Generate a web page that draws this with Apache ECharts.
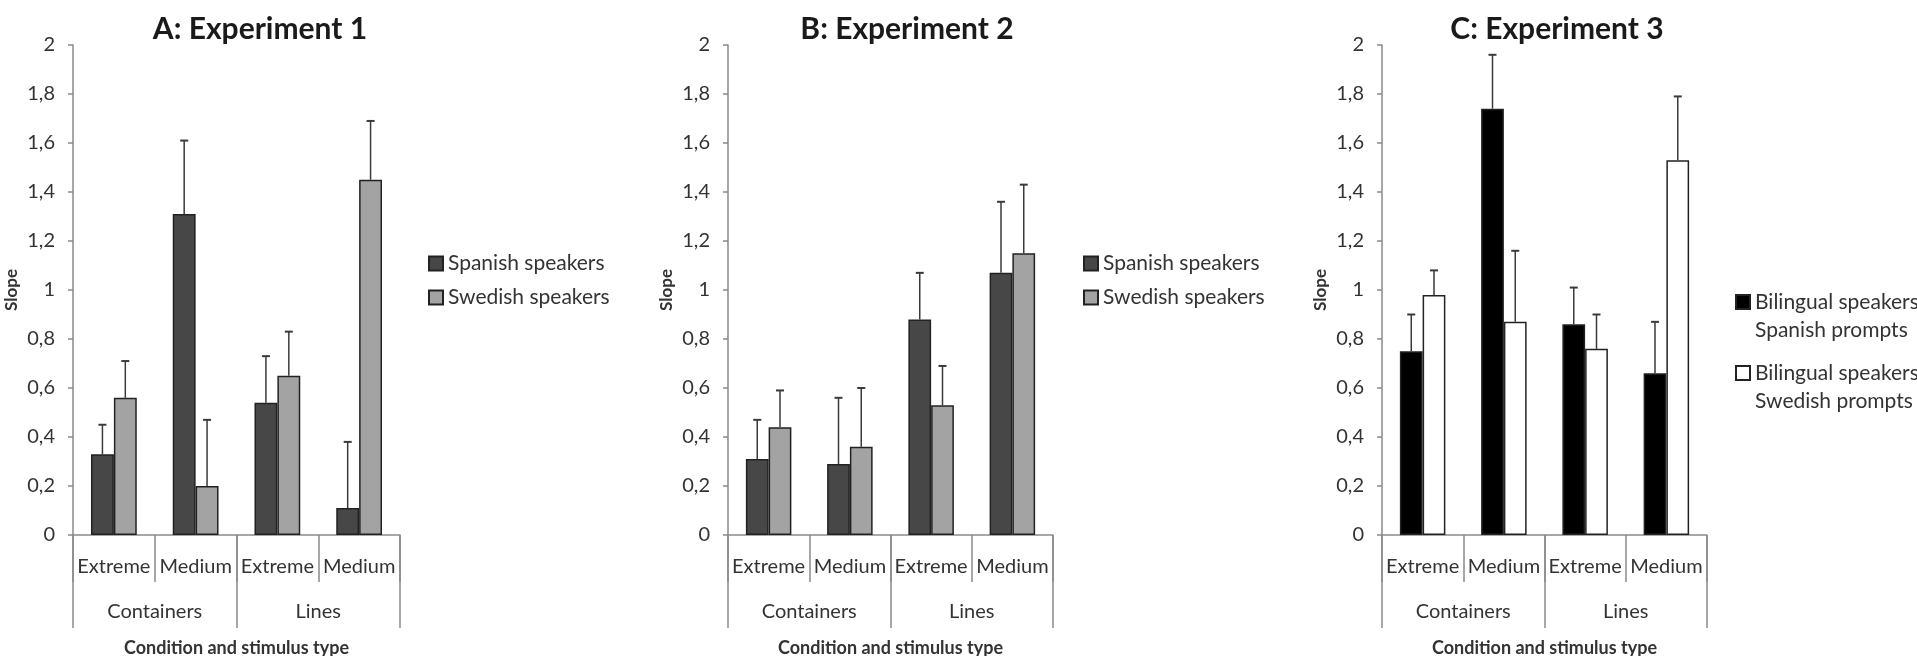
<!DOCTYPE html>
<html>
<head>
<meta charset="utf-8">
<script src="https://cdn.jsdelivr.net/npm/echarts@6/dist/echarts.min.js"></script>
<style>
  html, body { margin: 0; padding: 0; background: #fff; }
  #chart { width: 1917px; height: 656px; }
</style>
</head>
<body>
<div id="chart"></div>
<script>
// ---- Data ----
const conditions = ['Extreme', 'Medium', 'Extreme', 'Medium'];
const stimulusTypes = ['Containers', 'Lines'];
const yTickLabels = ['0', '0,2', '0,4', '0,6', '0,8', '1', '1,2', '1,4', '1,6', '1,8', '2'];
const panelTitles = ['A: Experiment 1', 'B: Experiment 2', 'C: Experiment 3'];
const speakerGroups = ['Spanish speakers', 'Swedish speakers'];
const promptGroups = ['Bilingual speakers Spanish prompts', 'Bilingual speakers Swedish prompts'];

// Mean slopes per condition
const exp1Spanish = [0.33, 1.31, 0.54, 0.11];
const exp1Swedish = [0.56, 0.20, 0.65, 1.45];
const exp2Spanish = [0.31, 0.29, 0.88, 1.07];
const exp2Swedish = [0.44, 0.36, 0.53, 1.15];
const exp3SpanishPrompts = [0.75, 1.74, 0.86, 0.66];
const exp3SwedishPrompts = [0.98, 0.87, 0.76, 1.53];

// Upper end of each error bar
const exp1SpanishTop = [0.45, 1.61, 0.73, 0.38];
const exp1SwedishTop = [0.71, 0.47, 0.83, 1.69];
const exp2SpanishTop = [0.47, 0.56, 1.07, 1.36];
const exp2SwedishTop = [0.59, 0.60, 0.69, 1.43];
const exp3SpanishPromptsTop = [0.90, 1.96, 1.01, 0.87];
const exp3SwedishPromptsTop = [1.08, 1.16, 0.90, 1.79];

// ---- Styling / layout ----
const FONT = 'Lato, "Open Sans", sans-serif';
const TEXT = '#333333';
const AXIS = '#8a8a8a';
const ERR = '#3a3a3a';
const CAT_GAP = 0.44;

const grids = [
  { left: 73,   top: 45, width: 327, height: 490, outerBoundsMode: 'none' },
  { left: 728,  top: 45, width: 325, height: 490, outerBoundsMode: 'none' },
  { left: 1382, top: 45, width: 325, height: 490, outerBoundsMode: 'none' }
];
const titleCenters = [260, 907, 1557];

const panels = [
  { names: speakerGroups, means: [exp1Spanish, exp1Swedish], tops: [exp1SpanishTop, exp1SwedishTop],
    colors: ['#474747', '#a3a3a3'] },
  { names: speakerGroups, means: [exp2Spanish, exp2Swedish], tops: [exp2SpanishTop, exp2SwedishTop],
    colors: ['#474747', '#a3a3a3'] },
  { names: promptGroups, means: [exp3SpanishPrompts, exp3SwedishPrompts],
    tops: [exp3SpanishPromptsTop, exp3SwedishPromptsTop], colors: ['#000000', '#ffffff'] }
];

// Error bar drawn from the bar top up to the upper value, with a short cap
function errorBars(g, means, tops, side) {
  return {
    type: 'custom',
    xAxisIndex: g * 2,
    yAxisIndex: g,
    z: 5,
    silent: true,
    data: means.map((m, i) => [i, m, tops[i]]),
    encode: { x: 0, y: [1, 2] },
    renderItem(params, api) {
      const i = api.value(0);
      const band = api.size([1, 0])[0];
      const dx = side * band * (1 - CAT_GAP) / 4;
      const base = api.coord([i, api.value(1)]);
      const top = api.coord([i, api.value(2)]);
      const x = base[0] + dx;
      return {
        type: 'group',
        children: [
          { type: 'line', shape: { x1: x, y1: base[1], x2: x, y2: top[1] },
            style: { stroke: ERR, lineWidth: 1.5 } },
          { type: 'line', shape: { x1: x - 4, y1: top[1], x2: x + 4, y2: top[1] },
            style: { stroke: ERR, lineWidth: 2 } }
        ]
      };
    }
  };
}

const axisLineStyle = { color: AXIS, width: 1.5, type: 'solid', opacity: 1 };
const xAxes = [];
const yAxes = [];
const series = [];
grids.forEach((gr, g) => {
  // inner level: condition per bar pair
  xAxes.push({
    type: 'category', gridIndex: g, data: conditions, position: 'bottom',
    axisLine: { show: true, onZero: false, lineStyle: axisLineStyle },
    axisTick: { show: true, interval: 0, alignWithLabel: false, length: 47, lineStyle: axisLineStyle },
    axisLabel: { show: true, interval: 0, margin: 22, fontSize: 20, color: TEXT, fontFamily: FONT }
  });
  // outer level: stimulus type spanning two conditions
  xAxes.push({
    type: 'category', gridIndex: g, data: stimulusTypes, position: 'bottom',
    axisLine: { show: false, onZero: false },
    axisTick: { show: true, interval: 0, alignWithLabel: false, length: 93, lineStyle: axisLineStyle },
    axisLabel: { show: true, interval: 0, margin: 67, fontSize: 20, color: TEXT, fontFamily: FONT },
    name: 'Condition and stimulus type', nameLocation: 'middle', nameGap: 104,
    nameTextStyle: { fontSize: 18, fontWeight: 'bold', color: TEXT, fontFamily: FONT }
  });
  yAxes.push({
    type: 'value', gridIndex: g, min: 0, max: 2, interval: 0.2,
    axisLine: { show: true, onZero: false, lineStyle: axisLineStyle },
    axisTick: { show: true, length: 5, lineStyle: axisLineStyle },
    splitLine: { show: false },
    axisLabel: { margin: 18, fontSize: 20, color: TEXT, fontFamily: FONT,
      formatter: v => yTickLabels[Math.round(v / 0.2)] },
    name: 'Slope', nameLocation: 'middle', nameGap: 53,
    nameTextStyle: { fontSize: 17, fontWeight: 'bold', color: TEXT, fontFamily: FONT }
  });

  const p = panels[g];
  p.names.forEach((name, s) => {
    series.push({
      type: 'bar', name, xAxisIndex: g * 2, yAxisIndex: g,
      data: p.means[s], barGap: '0%', barCategoryGap: (CAT_GAP * 100) + '%',
      itemStyle: { color: p.colors[s], borderColor: '#222222', borderWidth: 1.5 },
      emphasis: { disabled: true }
    });
  });
  p.names.forEach((name, s) => {
    series.push(errorBars(g, p.means[s], p.tops[s], s === 0 ? -1 : 1));
  });
});

const legendText = { fontSize: 21, color: TEXT, fontFamily: FONT };
const legendBase = { orient: 'vertical', padding: 0, icon: 'rect', itemWidth: 14, itemHeight: 14,
  selectedMode: false };
const option = {
  animation: false,
  backgroundColor: '#ffffff',
  title: panelTitles.map((t, i) => ({
    text: t, left: titleCenters[i], top: 14, padding: 0, textAlign: 'center',
    textStyle: { fontSize: 30, fontWeight: 'bold', color: '#1a1a1a', fontFamily: FONT }
  })),
  grid: grids,
  xAxis: xAxes,
  yAxis: yAxes,
  legend: [
    Object.assign({ data: speakerGroups, left: 428, top: 253, itemGap: 13, textStyle: legendText }, legendBase),
    Object.assign({ data: speakerGroups, left: 1083, top: 253, itemGap: 13, textStyle: legendText }, legendBase),
    Object.assign({ data: promptGroups, left: 1735, top: 260, itemGap: -13,
      // leading blank line keeps the icon level with the first text line
      formatter: name => '\n' + name.replace(' speakers ', ' speakers\n'),
      textStyle: Object.assign({}, legendText, { lineHeight: 28 }) }, legendBase)
  ],
  series
};

const chart = echarts.init(document.getElementById('chart'), null, { renderer: 'canvas' });
chart.setOption(option);
</script>
</body>
</html>
